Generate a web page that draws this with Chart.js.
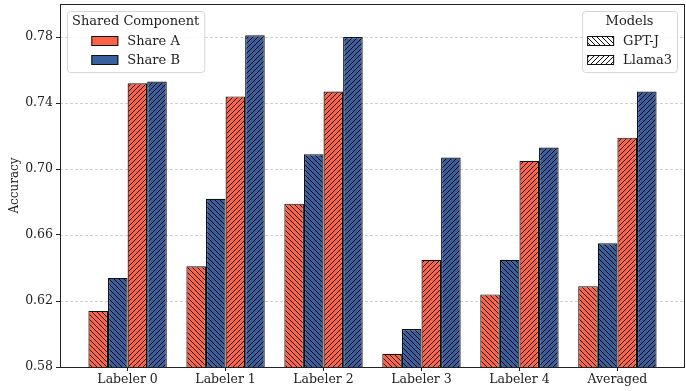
<!DOCTYPE html>
<html>
<head>
<meta charset="utf-8">
<script src="https://cdn.jsdelivr.net/npm/chart.js@4.4.1/dist/chart.umd.min.js"></script>
<style>
  html, body { margin: 0; padding: 0; background: #ffffff; }
  #wrap { width: 686px; height: 391px; position: relative; }
</style>
</head>
<body>
<div id="wrap"><canvas id="chart"></canvas></div>
<script>
// Accuracy per labeler, split by shared component and model
const categories = ['Labeler 0', 'Labeler 1', 'Labeler 2', 'Labeler 3', 'Labeler 4', 'Averaged'];
const shareAGptj   = [0.614, 0.641, 0.679, 0.588, 0.624, 0.629];
const shareBGptj   = [0.634, 0.682, 0.709, 0.603, 0.645, 0.655];
const shareALlama3 = [0.752, 0.744, 0.747, 0.645, 0.705, 0.719];
const shareBLlama3 = [0.753, 0.781, 0.780, 0.707, 0.713, 0.747];
const yTickValues  = [0.58, 0.62, 0.66, 0.70, 0.74, 0.78];

const componentTitle = 'Shared Component';
const componentNames = ['Share A', 'Share B'];
const modelTitle = 'Models';
const modelNames = ['GPT-J', 'Llama3'];

const COLOR_A = '#FF6347';
const COLOR_B = '#3A5F9E';
const INK = '#222222';
const FONT = 'DejaVu Serif';

// Diagonal hatch fill: 'back' = \\\\ , 'fwd' = ////
function hatch(fill, dir) {
  const s = 5;
  const c = document.createElement('canvas');
  c.width = s; c.height = s;
  const g = c.getContext('2d');
  g.fillStyle = fill;
  g.fillRect(0, 0, s, s);
  g.strokeStyle = 'rgba(0,0,0,0.95)';
  g.lineWidth = 1;
  g.beginPath();
  for (let k = -1; k <= 2; k++) {
    if (dir === 'back') {
      g.moveTo(0, k * s); g.lineTo(s, k * s + s);
    } else {
      g.moveTo(0, k * s); g.lineTo(s, k * s - s);
    }
  }
  g.stroke();
  return g.createPattern(c, 'repeat');
}

const toPoints = arr => arr.map((v, i) => ({ x: i, y: v }));

const barStyle = { borderColor: '#111', borderWidth: 1.2, categoryPercentage: 0.8, barPercentage: 1.0 };

const datasets = [
  { label: 'Share A / GPT-J',  data: toPoints(shareAGptj),   backgroundColor: hatch(COLOR_A, 'back'), ...barStyle },
  { label: 'Share B / GPT-J',  data: toPoints(shareBGptj),   backgroundColor: hatch(COLOR_B, 'back'), ...barStyle },
  { label: 'Share A / Llama3', data: toPoints(shareALlama3), backgroundColor: hatch(COLOR_A, 'fwd'),  ...barStyle },
  { label: 'Share B / Llama3', data: toPoints(shareBLlama3), backgroundColor: hatch(COLOR_B, 'fwd'),  ...barStyle }
];

// Dashed horizontal grid behind the bars
const gridPlugin = {
  id: 'dashedGrid',
  beforeDatasetsDraw(chart) {
    const { ctx, chartArea: a, scales: { y } } = chart;
    ctx.save();
    ctx.strokeStyle = 'rgba(170,170,170,0.7)';
    ctx.lineWidth = 0.8;
    ctx.setLineDash([3, 2]);
    yTickValues.forEach(v => {
      const py = Math.round(y.getPixelForValue(v)) + 0.5;
      ctx.beginPath(); ctx.moveTo(a.left, py); ctx.lineTo(a.right, py); ctx.stroke();
    });
    ctx.restore();
  }
};

// Box around the plotting area
const framePlugin = {
  id: 'frame',
  afterDatasetsDraw(chart) {
    const { ctx, chartArea: a } = chart;
    ctx.save();
    ctx.strokeStyle = INK;
    ctx.lineWidth = 1;
    ctx.strokeRect(a.left + 0.5, a.top + 0.5, a.right - a.left - 1, a.bottom - a.top);
    ctx.restore();
  }
};

function roundRect(ctx, x, y, w, h, r) {
  ctx.beginPath();
  ctx.moveTo(x + r, y);
  ctx.arcTo(x + w, y, x + w, y + h, r);
  ctx.arcTo(x + w, y + h, x, y + h, r);
  ctx.arcTo(x, y + h, x, y, r);
  ctx.arcTo(x, y, x + w, y, r);
  ctx.closePath();
}

// Two boxed legends: colour key (top left) and hatch key (top right)
function drawLegend(ctx, anchorX, top, alignRight, title, names, fills) {
  const pad = 5, patchW = 27, patchH = 10, gap = 9, rowH = 19;
  ctx.font = '13px "' + FONT + '"';
  const titleW = ctx.measureText(title).width;
  const textW = Math.max(...names.map(n => ctx.measureText(n).width));
  const blockW = patchW + gap + textW;
  const boxW = Math.max(titleW, blockW) + 2 * pad;
  const boxH = 61;
  const x = alignRight ? anchorX - boxW : anchorX;
  ctx.save();
  roundRect(ctx, x + 0.5, top + 0.5, boxW, boxH, 3);
  ctx.fillStyle = 'rgba(255,255,255,0.85)';
  ctx.fill();
  ctx.strokeStyle = '#d6d6d6';
  ctx.lineWidth = 1;
  ctx.stroke();
  ctx.fillStyle = INK;
  ctx.textBaseline = 'middle';
  ctx.textAlign = 'center';
  ctx.fillText(title, x + boxW / 2, top + 11);
  const bx = x + (boxW - blockW) / 2;
  ctx.textAlign = 'left';
  names.forEach((n, i) => {
    const cy = top + 30 + i * rowH;
    ctx.fillStyle = fills[i];
    ctx.fillRect(bx, cy - patchH / 2, patchW, patchH);
    ctx.strokeStyle = '#111';
    ctx.lineWidth = 1;
    ctx.strokeRect(bx + 0.5, cy - patchH / 2 + 0.5, patchW - 1, patchH - 1);
    ctx.fillStyle = INK;
    ctx.fillText(n, bx + patchW + gap, cy + 1);
  });
  ctx.restore();
}

const legendPlugin = {
  id: 'boxLegends',
  afterDraw(chart) {
    const { ctx, chartArea: a } = chart;
    drawLegend(ctx, a.left + 7, a.top + 7, false, componentTitle, componentNames, [COLOR_A, COLOR_B]);
    drawLegend(ctx, a.right - 8, a.top + 7, true, modelTitle, modelNames,
      [hatch('#ffffff', 'back'), hatch('#ffffff', 'fwd')]);
  }
};

new Chart(document.getElementById('chart'), {
  type: 'bar',
  data: { datasets },
  plugins: [gridPlugin, framePlugin, legendPlugin],
  options: {
    responsive: true,
    maintainAspectRatio: false,
    animation: false,
    layout: { padding: { top: 4, right: 1, left: 0, bottom: 0 } },
    plugins: { legend: { display: false }, tooltip: { enabled: false } },
    scales: {
      x: {
        type: 'linear',
        min: -0.69,
        max: 5.69,
        offset: false,
        afterBuildTicks: s => { s.ticks = categories.map((_, i) => ({ value: i })); },
        afterFit: s => { s.height = 24; s.paddingLeft = 0; s.paddingRight = 0; },
        ticks: {
          callback: v => categories[v],
          autoSkip: false, maxRotation: 0, padding: 1,
          color: INK, font: { family: FONT, size: 12.5 }
        },
        grid: { display: true, drawOnChartArea: false, drawTicks: true, tickLength: 4, tickColor: INK, tickWidth: 1, offset: false },
        border: { display: false }
      },
      y: {
        min: 0.58,
        max: 0.80,
        afterBuildTicks: s => { s.ticks = yTickValues.map(v => ({ value: v })); },
        afterFit: s => { s.width = 60; s.paddingTop = 0; s.paddingBottom = 0; },
        ticks: {
          callback: v => v.toFixed(2),
          padding: 3,
          color: INK, font: { family: FONT, size: 12.5 }
        },
        grid: { display: true, drawOnChartArea: false, drawTicks: true, tickLength: 4, tickColor: INK, tickWidth: 1 },
        border: { display: false },
        title: { display: true, text: 'Accuracy', color: INK, font: { family: FONT, size: 12 }, padding: { top: 8, bottom: 0 } }
      }
    }
  }
});
</script>
</body>
</html>
